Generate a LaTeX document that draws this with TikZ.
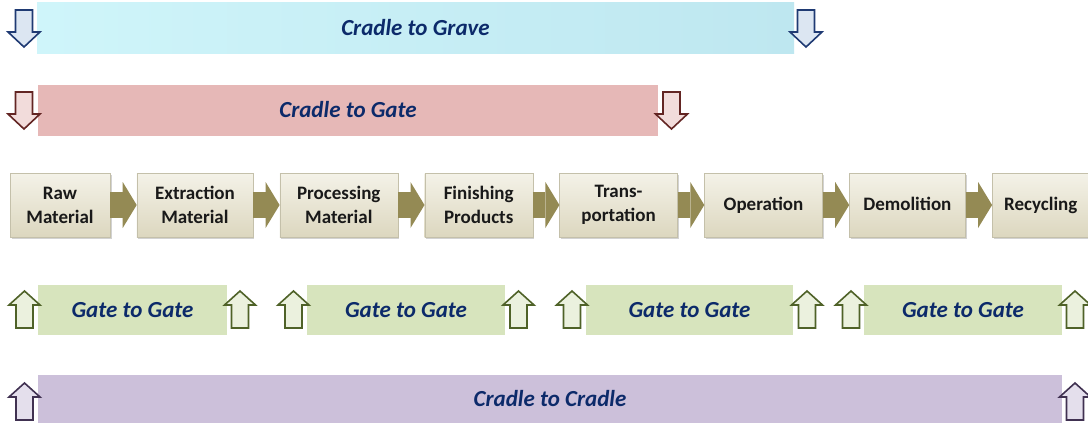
\documentclass[tikz,border=0pt]{standalone}
\usepackage{fontspec}
\setmainfont{Carlito}
\usetikzlibrary{positioning,arrows.meta,shadows}
\definecolor{navytxt}{HTML}{0C2A6A}
\definecolor{gravel}{HTML}{CFF5FA}
\definecolor{graver}{HTML}{BEE7F0}
\definecolor{gravedraw}{HTML}{1F3A73}
\definecolor{gravefill}{HTML}{DCE6F2}
\definecolor{gatebar}{HTML}{E6B8B7}
\definecolor{gatedraw}{HTML}{632523}
\definecolor{gatefill}{HTML}{F2DCDB}
\definecolor{ggbar}{HTML}{D7E4BD}
\definecolor{ggdraw}{HTML}{4F6228}
\definecolor{ggfill}{HTML}{EBF1DE}
\definecolor{cradlebar}{HTML}{CCC0DA}
\definecolor{cradledraw}{HTML}{403151}
\definecolor{cradlefill}{HTML}{E4DFEC}
\definecolor{stagetop}{HTML}{F4F2E8}
\definecolor{stagebot}{HTML}{DCD7BF}
\definecolor{stageline}{HTML}{C4C0AA}
\definecolor{flowcol}{HTML}{948A54}

\begin{document}
\begin{tikzpicture}[x=1pt,y=-1pt,
  bar/.style={inner sep=0pt,font=\fontsize{23}{26}\selectfont\bfseries\itshape,text=navytxt},
  stage/.style={draw=stageline,top color=stagetop,bottom color=stagebot,minimum height=64pt,inner sep=0pt,align=center,
    font=\fontsize{19}{24}\selectfont\bfseries,text=black!90,drop shadow={shadow xshift=1.5pt,shadow yshift=-2pt,opacity=.35}},
  flow/.style={draw=flowcol,line width=26pt,-{Triangle[length=14pt,width=46pt,line width=0pt]}},
  downarr/.pic={\path[pic actions] (-8.5,0)--(8.5,0)--(8.5,22)--(16,22)--(0,37)--(-16,22)--(-8.5,22)--cycle;},
  uparr/.pic={\path[pic actions] (-8.5,37)--(8.5,37)--(8.5,14)--(15.5,14)--(0,0)--(-15.5,14)--(-8.5,14)--cycle;}]
\useasboundingbox[fill=white] (0,0) rectangle (1088,423);

\node[bar,left color=gravel,right color=graver,minimum width=757pt,minimum height=51pt] (grave) at (415.5,28) {Cradle to Grave};
\pic[draw=gravedraw,fill=gravefill,line width=1.6pt] at (24,10) {downarr};
\pic[draw=gravedraw,fill=gravefill,line width=1.6pt] at (806,10) {downarr};

\node[bar,fill=gatebar,minimum width=620pt,minimum height=51pt] (gate) at (348,110) {Cradle to Gate};
\pic[draw=gatedraw,fill=gatefill,line width=1.6pt] at (24,92) {downarr};
\pic[draw=gatedraw,fill=gatefill,line width=1.6pt] at (671.5,92) {downarr};

\node[stage,minimum width=100pt] (raw) at (60,205) {Raw\\Material};
\node[stage,minimum width=116pt,right=26.5pt of raw] (extr) {Extraction\\Material};
\node[stage,minimum width=118pt,right=26.5pt of extr] (proc) {Processing\\Material};
\node[stage,minimum width=108pt,right=26.5pt of proc] (fini) {Finishing\\Products};
\node[stage,minimum width=118pt,right=26.5pt of fini] (trans) {Trans-\\portation};
\node[stage,minimum width=118pt,right=26.5pt of trans,text depth=2pt] (oper) {Operation};
\node[stage,minimum width=116pt,right=26.5pt of oper,text depth=2pt] (demo) {Demolition};
\node[stage,minimum width=97pt,right=26.5pt of demo,text depth=2pt] (recy) {Recycling};
\foreach \a/\b in {raw/extr,extr/proc,proc/fini,fini/trans,trans/oper,oper/demo,demo/recy}
  \draw[flow] (\a) -- (\b);

\node[bar,fill=ggbar,minimum width=189pt,minimum height=50pt] (gg1) at (132.5,310) {Gate to Gate};
\node[bar,fill=ggbar,minimum width=198pt,minimum height=50pt] (gg2) at (406,310) {Gate to Gate};
\node[bar,fill=ggbar,minimum width=207pt,minimum height=50pt] (gg3) at (689.5,310) {Gate to Gate};
\node[bar,fill=ggbar,minimum width=198pt,minimum height=50pt] (gg4) at (963,310) {Gate to Gate};
\foreach \x in {24.5,240,293.5,518.5,572,807,851,1075}
  \pic[draw=ggdraw,fill=ggfill,line width=1.6pt] at (\x,291) {uparr};

\node[bar,fill=cradlebar,minimum width=1024pt,minimum height=49pt] (cradle) at (550,399) {Cradle to Cradle};
\pic[draw=cradledraw,fill=cradlefill,line width=1.6pt] at (24.5,383) {uparr};
\pic[draw=cradledraw,fill=cradlefill,line width=1.6pt] at (1075,383) {uparr};
\end{tikzpicture}
\end{document}
